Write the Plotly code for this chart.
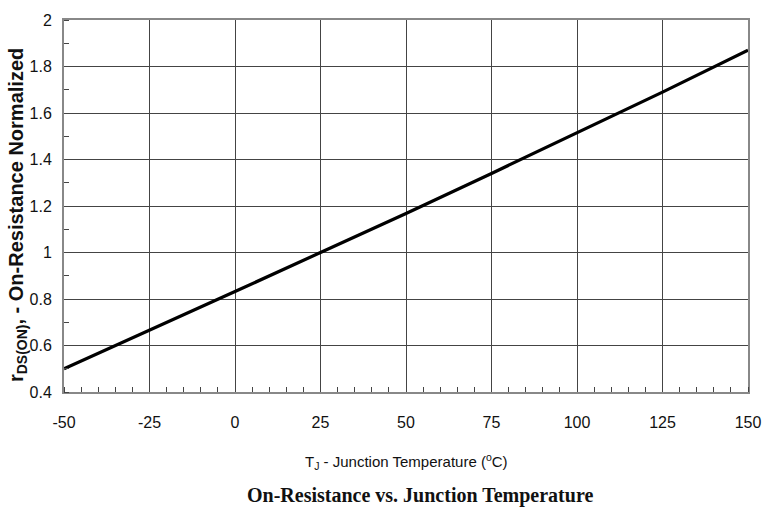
import plotly.graph_objects as go

temps = [-50, -25, 0, 25, 50, 75, 100, 125, 150]
rds_norm = [0.50, 0.665, 0.832, 1.0, 1.168, 1.34, 1.515, 1.69, 1.87]

x_ticks = [-50, -25, 0, 25, 50, 75, 100, 125, 150]
y_ticks = [0.4, 0.6, 0.8, 1.0, 1.2, 1.4, 1.6, 1.8, 2.0]
y_labels = ["0.4", "0.6", "0.8", "1", "1.2", "1.4", "1.6", "1.8", "2"]

tick_font = dict(family="Liberation Sans Narrow, Liberation Sans, Arial", size=16, color="#111")

fig = go.Figure()
fig.add_trace(go.Scatter(x=temps, y=rds_norm, mode="lines",
                         line=dict(color="black", width=3.2), showlegend=False))

fig.update_xaxes(range=[-50, 150], tickvals=x_ticks, ticktext=[str(v) for v in x_ticks],
                 showgrid=True, gridcolor="#444", gridwidth=1,
                 showline=True, linecolor="#888", linewidth=2, mirror=True,
                 ticks="", ticklabelstandoff=15, tickfont=tick_font, zeroline=False,
                 minor=dict(dtick=5, ticks="inside", ticklen=5, tickcolor="#444", showgrid=False))
fig.update_yaxes(range=[0.4, 2.0], tickvals=y_ticks, ticktext=y_labels,
                 showgrid=True, gridcolor="#444", gridwidth=1,
                 showline=True, linecolor="#888", linewidth=2, mirror=True,
                 ticks="", ticklabelstandoff=7, tickfont=tick_font, zeroline=False,
                 minor=dict(dtick=0.1, ticks="inside", ticklen=5, tickcolor="#444", showgrid=False))

fig.add_annotation(xref="paper", yref="paper", x=0.5, y=-0.186, yanchor="middle", showarrow=False,
                   text="T<sub>J</sub> - Junction Temperature (<sup>o</sup>C)",
                   font=dict(family="Liberation Sans Narrow, Liberation Sans, Arial", size=15, color="#111"))
fig.add_annotation(xref="paper", yref="paper", x=0.52, y=-0.277, yanchor="middle", showarrow=False,
                   text="<b>On-Resistance vs. Junction Temperature</b>",
                   font=dict(family="Liberation Serif, Times New Roman, serif", size=20, color="#111"))
fig.add_annotation(xref="paper", yref="paper", x=-0.067, y=0.476, xanchor="center", yanchor="middle",
                   showarrow=False, textangle=-90,
                   text="<b>r<sub>DS(ON)</sub>, - On-Resistance Normalized</b>",
                   font=dict(family="Liberation Sans, Arial", size=20, color="#111"))

fig.update_layout(width=778, height=511, margin=dict(l=64, r=30, t=16, b=119),
                  paper_bgcolor="white", plot_bgcolor="white")

fig.write_html("out.html")
